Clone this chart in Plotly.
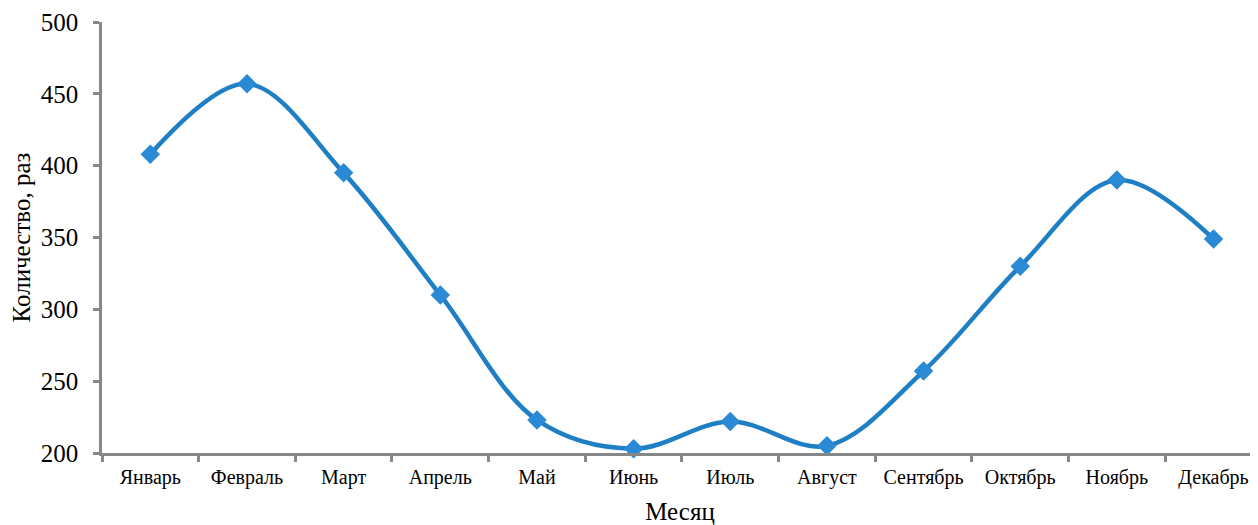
import plotly.graph_objects as go

months = ["Январь", "Февраль", "Март", "Апрель", "Май", "Июнь",
          "Июль", "Август", "Сентябрь", "Октябрь", "Ноябрь", "Декабрь"]
counts = [408, 457, 395, 310, 223, 203, 222, 205, 257, 330, 390, 349]
y_ticks = [200, 250, 300, 350, 400, 450, 500]

fig = go.Figure()
fig.add_trace(go.Scatter(
    x=months, y=counts, mode="lines+markers",
    line=dict(color="#1f7fc4", width=4.5, shape="spline", smoothing=1.0),
    marker=dict(symbol="diamond", size=15, color="#2a8ad6"),
    cliponaxis=False,
))

font = "Liberation Serif, Times New Roman, serif"
# page body has an 8px margin, so the figure is sized to fill the rest of the window
fig.update_layout(
    width=1250, height=517,
    margin=dict(l=94, r=0, t=14, b=72),
    paper_bgcolor="white", plot_bgcolor="white",
    showlegend=False,
    font=dict(family=font, color="black"),
)
fig.update_xaxes(
    type="category", range=[-0.5, 11.46], automargin=False,
    showline=True, linecolor="#878787", linewidth=2.5,
    ticks="outside", tickson="boundaries", ticklen=6, tickwidth=2.5, tickcolor="#878787",
    tickfont=dict(size=20, family=font), ticklabelstandoff=4,
    showgrid=False,
    title=dict(text="Месяц", font=dict(size=25, family=font), standoff=18),
)
fig.update_yaxes(
    range=[200, 500], tickvals=y_ticks, automargin=False,
    showline=True, linecolor="#878787", linewidth=2.5,
    ticks="outside", ticklen=6, tickwidth=2.5, tickcolor="#878787",
    tickfont=dict(size=25, family=font), ticklabelstandoff=10,
    showgrid=False, zeroline=False,
    title=dict(text="Количество, раз", font=dict(size=25, family=font), standoff=8),
)
fig.write_html("out.html")
